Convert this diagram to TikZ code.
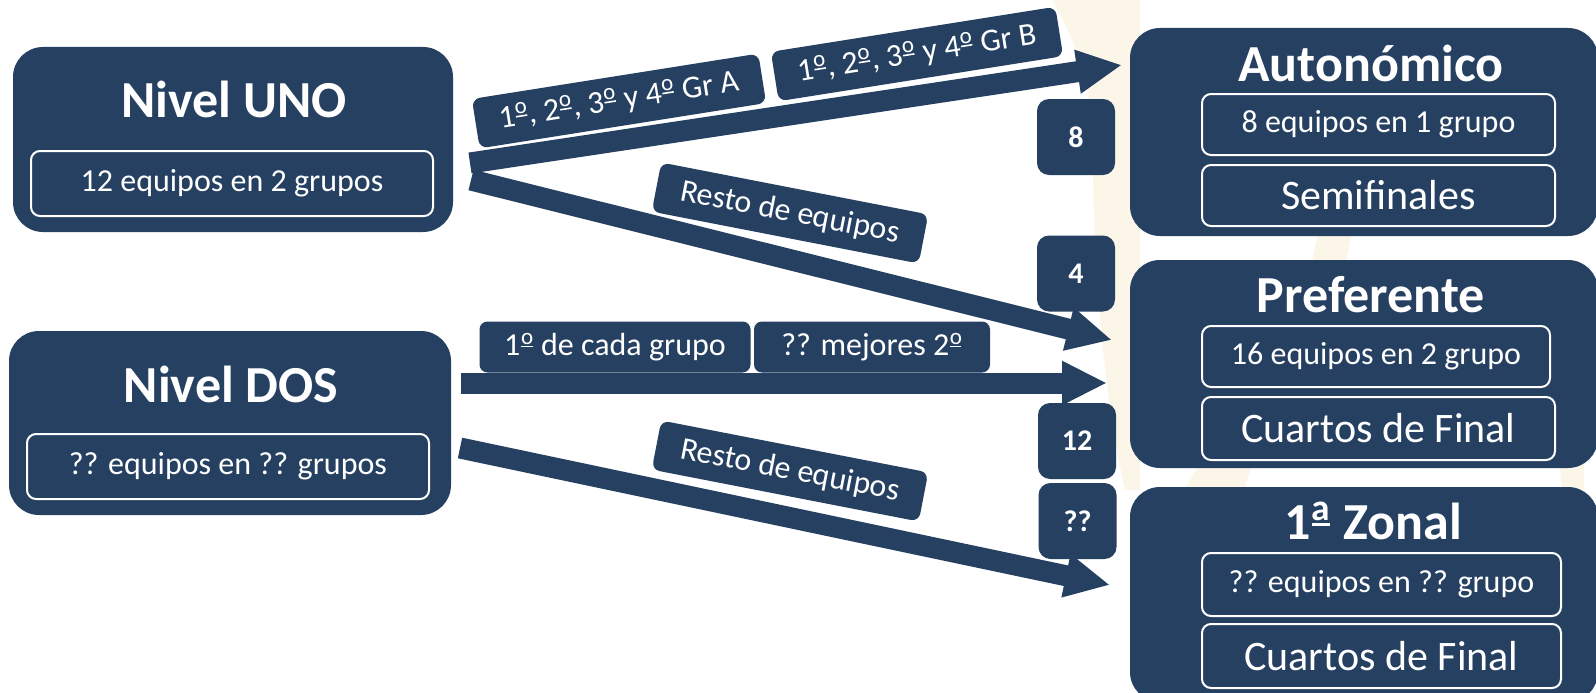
\documentclass[tikz,border=0pt]{standalone}
\usepackage{fontspec}
\setmainfont{Carlito}
\usetikzlibrary{arrows.meta}
\definecolor{navy}{HTML}{264061}
\definecolor{cream}{HTML}{FBF6E7}
\newcommand{\myfs}[1]{\fontsize{#1}{#1}\selectfont}
\newcommand{\ordm}{\kern0.02em\raisebox{0.26em}{\ooalign{\hfil\raisebox{0.09em}{\scalebox{0.72}{o}}\hfil\cr\rule{0.36em}{0.05em}}}\kern0.02em}
\newcommand{\ordf}{\kern0.02em\raisebox{0.26em}{\ooalign{\hfil\raisebox{0.09em}{\scalebox{0.72}{a}}\hfil\cr\rule{0.36em}{0.055em}}}\kern0.02em}
\tikzset{
 bigbox/.style={fill=navy, rounded corners=30pt, inner sep=0pt},
 sub/.style={draw=white, line width=2pt, rounded corners=9pt, text=white, font=\myfs{32}, inner sep=0pt},
 subbig/.style={sub, font=\myfs{42}},
 ttl/.style={text=white, font=\bfseries\myfs{52}, inner sep=0pt},
 badge/.style={fill=navy, rounded corners=12pt, text=white, font=\bfseries\myfs{30}, minimum width=78pt, minimum height=76pt, inner sep=0pt},
 lbl/.style={fill=navy, rounded corners=8pt, text=white, font=\myfs{32}, minimum height=50pt, inner sep=0pt},
 fat/.style={draw=navy, line width=21pt, -{Triangle[length=45pt,width=41pt]}},
}
\begin{document}
\begin{tikzpicture}[x=1pt,y=-1pt]
\useasboundingbox (0,0) rectangle (1596,693);
\fill[white] (0,0) rectangle (1596,693);
% watermark (faint)
\fill[cream] (1052,0) .. controls (1075,40) and (1090,80) .. (1092,130) .. controls (1094,250) and (1100,380) .. (1125,490) -- (1140,490) -- (1140,0) -- cycle;
\fill[cream] (1318,232) -- (1352,232) -- (1346,262) -- (1312,262) -- cycle;
\fill[cream] (1200,464) -- (1252,464) -- (1244,490) -- (1184,490) -- cycle;
\fill[cream] (1560,464) -- (1584,464) -- (1584,490) -- (1562,490) -- cycle;

% left boxes
\node[bigbox, minimum width=440pt, minimum height=185pt] (uno) at (233,139.5) {};
\node[ttl] (unoT) at (234,99) {Nivel UNO};
\node[sub, minimum width=402pt, minimum height=65pt] (unoS) at (232,183.5) {12 equipos en 2 grupos};

\node[bigbox, minimum width=442pt, minimum height=184pt] (dos) at (230,423) {};
\node[ttl] (dosT) at (231,384) {Nivel DOS};
\node[sub, minimum width=402pt, minimum height=65pt] (dosS) at (228,466.5) {?? equipos en ?? grupos};

% right boxes
\node[bigbox, minimum width=468pt, minimum height=208pt] (aut) at (1364,132) {};
\node[ttl] (autT) at (1371,63) {Autonómico};
\node[sub, minimum width=353pt, minimum height=61pt] (autS1) at (1378.5,124.5) {8 equipos en 1 grupo};
\node[subbig, minimum width=353pt, minimum height=61pt] (autS2) at (1378.5,195.5) {Semifinales};

\node[bigbox, minimum width=468pt, minimum height=208pt] (pre) at (1364,364) {};
\node[ttl] (preT) at (1371,295) {Preferente};
\node[sub, minimum width=348pt, minimum height=61pt] (preS1) at (1376,356.5) {16 equipos en 2 grupo};
\node[subbig, minimum width=353pt, minimum height=63pt] (preS2) at (1378.5,428.5) {Cuartos de Final};

\node[bigbox, minimum width=468pt, minimum height=215pt] (zon) at (1364,594.5) {};
\node[ttl] (zonT) at (1373,521) {1\ordf\ Zonal};
\node[sub, minimum width=359pt, minimum height=63pt] (zonS1) at (1381.5,584.5) {?? equipos en ?? grupo};
\node[subbig, minimum width=359pt, minimum height=64pt] (zonS2) at (1381.5,656) {Cuartos de Final};

% arrows
\coordinate (aS) at (470,163);
\coordinate (aE) at (1122,65);
\coordinate (bS) at (471,180);
\coordinate (bE) at (1112,340);
\coordinate (cS) at (461,383);
\coordinate (cE) at (1107,383);
\coordinate (dS) at (460,448);
\coordinate (dE) at (1110,585);
\draw[fat] (aS) -- (aE);
\draw[fat] (bS) -- (bE);
\draw[fat] (cS) -- (cE);
\draw[fat] (dS) -- (dE);

% labels
\node[lbl, minimum width=290pt, rotate=9] (grA) at (619,101) {1\ordm, 2\ordm, 3\ordm\ y 4\ordm\ Gr A};
\node[lbl, minimum width=288pt, rotate=9] (grB) at (917,54) {1\ordm, 2\ordm, 3\ordm\ y 4\ordm\ Gr B};
\node[lbl, minimum width=272pt, rotate=-11] (resto1) at (790,213) {Resto de equipos};
\node[lbl, minimum width=272pt, rotate=-11] (resto2) at (790,471) {Resto de equipos};
\node[lbl, minimum width=271pt, minimum height=51pt] (cada) at (615,347) {1\ordm\ de cada grupo};
\node[lbl, minimum width=236pt, minimum height=51pt] (mej) at (872,347) {?? mejores 2\ordm};

% badges
\node[badge] (b8) at (1076,137) {8};
\node[badge] (b4) at (1076,273.5) {4};
\node[badge] (b12) at (1077,441) {12};
\node[badge] (bq) at (1077.5,521) {??};
\end{tikzpicture}
\end{document}
